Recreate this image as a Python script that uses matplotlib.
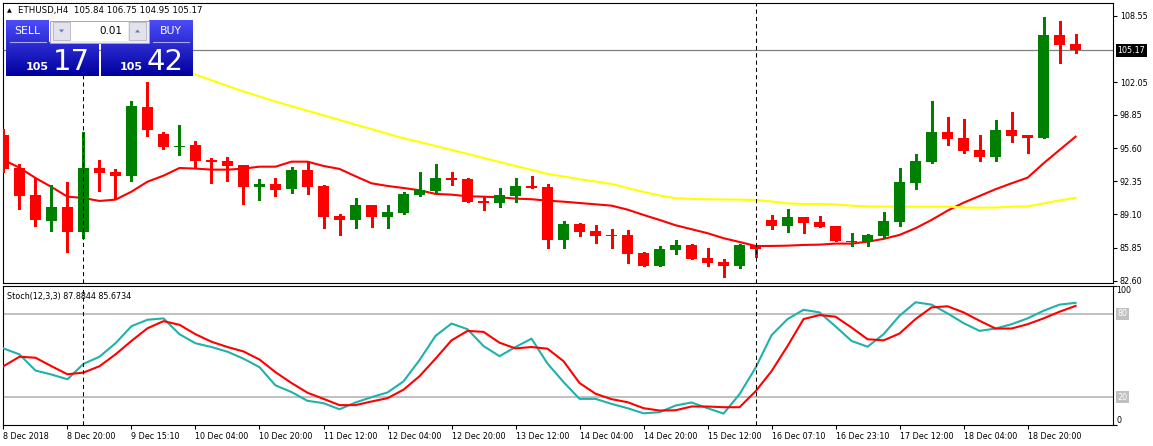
import numpy as np
import matplotlib
matplotlib.use("Agg")
import matplotlib.pyplot as plt
import matplotlib.transforms as mtransforms
from matplotlib.patches import Rectangle, Polygon

plt.rcParams['font.family'] = ['DejaVu Sans']

symbol = "ETHUSD,H4"

# OHLC of the 68 H4 bars
opens = [96.89, 93.65, 91.01, 88.49, 89.83, 87.38, 93.65, 93.26, 92.87, 99.63,
         96.99, 95.71, 95.91, 94.44, 94.34, 93.95, 91.79, 92.09, 91.60, 93.46,
         91.89, 88.95, 88.56, 90.03, 88.85, 89.24, 91.01, 91.40, 92.67, 92.58,
         90.42, 90.22, 90.91, 91.89, 91.79, 86.60, 88.17, 87.48, 87.09, 87.09,
         85.32, 84.00, 85.62, 86.11, 84.83, 84.44, 84.00, 86.11, 88.56, 87.97,
         88.85, 88.36, 87.97, 86.40, 86.40, 87.00, 88.36, 92.18, 94.24, 97.18,
         96.59, 95.42, 94.73, 97.38, 96.89, 96.59, 106.69, 105.84]
highs = [97.48, 94.05, 92.67, 91.99, 92.28, 97.18, 94.44, 93.56, 100.25, 102.08,
         97.18, 97.87, 96.30, 94.63, 94.73, 93.95, 92.58, 92.67, 93.75, 94.34,
         91.99, 89.15, 90.71, 90.03, 90.03, 91.30, 93.26, 94.05, 93.26, 92.67,
         90.81, 91.69, 92.67, 92.87, 92.09, 88.46, 88.26, 88.07, 87.68, 87.58,
         85.42, 86.01, 86.60, 86.21, 85.81, 84.74, 86.21, 86.11, 89.05, 89.64,
         88.85, 88.95, 87.97, 87.28, 87.19, 89.34, 93.65, 95.03, 100.22, 98.65,
         98.46, 96.89, 98.36, 99.14, 96.89, 108.45, 108.06, 106.75]
lows = [93.26, 89.64, 87.97, 87.48, 85.42, 86.79, 91.40, 90.62, 92.38, 96.79,
        95.52, 94.93, 93.75, 92.18, 92.38, 90.13, 90.52, 90.91, 91.20, 91.11,
        87.77, 87.09, 87.77, 87.87, 87.77, 89.15, 90.91, 91.20, 91.99, 90.32,
        89.54, 89.83, 90.32, 91.69, 85.81, 85.81, 87.00, 86.30, 85.81, 84.34,
        84.00, 84.00, 85.23, 84.74, 84.00, 82.97, 83.85, 84.93, 87.68, 87.38,
        87.28, 87.87, 86.50, 86.01, 86.01, 86.79, 87.97, 91.60, 94.14, 95.91,
        95.13, 94.34, 94.34, 96.20, 95.13, 96.59, 103.94, 104.95]
closes = [93.56, 90.91, 88.56, 89.83, 87.38, 93.65, 93.16, 92.87, 99.73, 97.38,
          95.71, 95.81, 94.34, 94.24, 93.85, 91.79, 92.09, 91.50, 93.46, 91.79,
          88.85, 88.56, 90.03, 88.85, 89.34, 91.11, 91.50, 92.67, 92.48, 90.32,
          90.22, 91.01, 91.89, 91.69, 86.60, 88.17, 87.38, 87.00, 87.00, 85.23,
          84.00, 85.72, 86.11, 84.74, 84.34, 84.00, 86.11, 85.72, 87.97, 88.85,
          88.26, 87.87, 86.50, 86.50, 87.09, 88.46, 92.28, 94.34, 97.18, 96.50,
          95.32, 94.73, 97.38, 96.79, 96.59, 106.69, 105.71, 105.17]

# red moving average, one value per bar
ma_fast = [94.44, 93.68, 92.67, 91.79, 90.84, 90.71, 90.42, 90.55, 91.33, 92.31,
           92.90, 93.65, 93.59, 93.49, 93.49, 93.59, 93.78, 93.78, 94.27, 94.27,
           93.85, 93.56, 92.84, 92.15, 91.89, 91.69, 91.47, 91.11, 91.04, 90.88,
           90.84, 90.78, 90.65, 90.59, 90.45, 90.35, 90.22, 90.09, 89.96, 89.57,
           89.05, 88.56, 88.04, 87.65, 87.26, 86.77, 86.40, 86.01, 86.01, 86.04,
           86.11, 86.14, 86.24, 86.24, 86.43, 86.70, 87.09, 87.75, 88.56, 89.47,
           90.25, 90.91, 91.57, 92.15, 92.70, 94.11, 95.42, 96.72]
# yellow moving average, visible from bar 11 on
ma_slow_start = 11
ma_slow = [103.31, 102.79, 102.25, 101.69, 101.15, 100.66, 100.16, 99.71, 99.26, 98.81,
           98.36, 97.91, 97.46, 97.01, 96.56, 96.20, 95.81, 95.42, 95.03, 94.63,
           94.24, 93.85, 93.46, 93.07, 92.82, 92.55, 92.33, 92.09, 91.69, 91.30,
           90.96, 90.69, 90.62, 90.59, 90.57, 90.55, 90.52, 90.37, 90.18, 90.13,
           90.13, 90.08, 89.96, 89.88, 89.86, 89.86, 89.86, 89.86, 89.86, 89.78,
           89.76, 89.78, 89.86, 89.88, 90.18, 90.47, 90.74]

# Stoch(12,3,3)
stoch_main = [55.1, 50.8, 39.2, 36.3, 32.9, 44.0, 49.1, 58.8, 71.1, 75.7,
              76.7, 65.3, 58.8, 56.1, 52.7, 47.7, 41.6, 28.5, 23.7, 17.4,
              15.7, 11.3, 16.2, 20.0, 23.4, 31.4, 46.7, 64.1, 73.0, 68.9,
              56.8, 49.5, 56.1, 62.1, 44.2, 30.9, 18.8, 18.8, 15.2, 12.1,
              8.4, 9.2, 14.0, 16.2, 12.1, 8.2, 22.2, 41.1, 64.6, 76.2,
              82.9, 81.0, 70.9, 60.5, 56.3, 65.3, 78.6, 88.3, 86.6, 80.3,
              73.3, 67.7, 69.4, 72.5, 76.7, 82.2, 86.6, 87.8844]
stoch_signal = [42.3, 49.1, 48.4, 42.3, 36.5, 37.7, 42.3, 50.8, 60.5, 69.6,
                74.7, 72.1, 65.3, 59.9, 56.1, 52.9, 47.1, 38.0, 30.2, 23.2,
                18.8, 14.3, 14.3, 16.9, 19.3, 25.4, 35.1, 47.7, 60.9, 67.7,
                67.0, 59.2, 55.1, 56.1, 54.9, 45.9, 30.2, 22.5, 18.6, 16.4,
                12.1, 10.4, 10.6, 13.3, 13.3, 12.8, 12.8, 24.2, 38.7, 56.8,
                76.2, 79.1, 77.9, 70.1, 61.7, 60.9, 65.8, 76.2, 84.6, 85.4,
                81.0, 75.0, 69.4, 69.4, 72.5, 76.7, 81.5, 85.6734]

time_labels = ["8 Dec 2018", "8 Dec 20:00", "9 Dec 15:10", "10 Dec 04:00", "10 Dec 20:00",
               "11 Dec 12:00", "12 Dec 04:00", "12 Dec 20:00", "13 Dec 12:00",
               "14 Dec 04:00", "14 Dec 20:00", "15 Dec 12:00", "16 Dec 07:10",
               "16 Dec 23:10", "17 Dec 12:00", "18 Dec 04:00", "18 Dec 20:00"]
label_step = 4
price_ticks = [82.60, 85.85, 89.10, 92.35, 95.60, 98.85, 102.05, 108.55]
bid = 105.17
ask = 105.42
lot = "0.01"
marked_bars = [5, 47]

W, H = 1153, 446
fig = plt.figure(figsize=(W / 100, H / 100), dpi=100)
fig.patch.set_facecolor('white')


def box(x0, y0, x1, y1):
    # pixel box (y down) -> figure fraction rect
    return [x0 / W, 1 - y1 / H, (x1 - x0) / W, (y1 - y0) / H]


ax = fig.add_axes(box(3, 3, 1113, 283))
ax2 = fig.add_axes(box(3, 286, 1113, 425))

n = len(opens)
idx = np.arange(n)
o = np.array(opens)
c = np.array(closes)
colors = np.where(c >= o, '#008000', '#FF0000')
xlim = (-0.03, 69.34)

# ---- main price panel
ax.axhline(bid, color='#808080', lw=0.9, zorder=1)
ax.plot(idx, ma_fast, color='#FF0000', lw=1.5, zorder=2)
ax.plot(idx[ma_slow_start:], ma_slow, color='#FFFF00', lw=1.5, zorder=2)
ax.vlines(idx, lows, highs, colors=colors, lw=0.75, zorder=3, antialiased=False)
ax.bar(idx, np.maximum(np.abs(c - o), 0.1), bottom=np.minimum(o, c), width=0.69,
       color=colors, lw=0, zorder=4, antialiased=False)
for b in marked_bars:
    ax.axvline(b, color='black', lw=0.75, ls=(0, (4, 3)), zorder=5)
    ax2.axvline(b, color='black', lw=0.75, ls=(0, (4, 3)), zorder=5)

ax.set_xlim(*xlim)
ax.set_ylim(82.38, 109.82)
ax.set_xticks([])
ax.yaxis.tick_right()
ax.set_yticks(price_ticks)
ax.set_yticklabels([f"{p:.2f}" for p in price_ticks])
ax.tick_params(axis='y', length=3, width=0.8, labelsize=5.8, pad=2)

blend = mtransforms.blended_transform_factory(ax.transAxes, ax.transData)
ax.text(1.004, bid, f"{bid:.2f}", transform=blend, ha='left', va='center',
        fontsize=5.8, color='white',
        bbox=dict(boxstyle='square,pad=0.22', fc='black', ec='none'))

# ---- stochastic panel
ax2.axhline(80, color='#C0C0C0', lw=1.4, zorder=1)
ax2.axhline(20, color='#C0C0C0', lw=1.4, zorder=1)
ax2.plot(idx, stoch_main, color='#20B2AA', lw=1.5, zorder=3)
ax2.plot(idx, stoch_signal, color='#FF0000', lw=1.5, zorder=3)
ax2.set_xlim(*xlim)
ax2.set_ylim(0, 100)
ax2.yaxis.tick_right()
ax2.set_yticks([0, 100])
ax2.set_yticklabels(['', ''])
ax2.tick_params(axis='y', length=3, width=0.8)
ticks = idx[::label_step][:len(time_labels)]
ax2.set_xticks(ticks)
ax2.set_xticklabels(time_labels, ha='left')
ax2.tick_params(axis='x', length=3, width=0.8, labelsize=5.8, pad=2)

blend2 = mtransforms.blended_transform_factory(ax2.transAxes, ax2.transData)
ax2.text(1.003, 100, "100", transform=blend2, ha='left', va='top', fontsize=5.8)
ax2.text(1.003, 0, "0", transform=blend2, ha='left', va='bottom', fontsize=5.8)
for lv in (80, 20):
    ax2.text(1.004, lv, str(lv), transform=blend2, ha='left', va='center',
             fontsize=5.8, color='white',
             bbox=dict(boxstyle='square,pad=0.15', fc='#C0C0C0', ec='none'))
ax2.text(0.004, 0.96, f"Stoch(12,3,3) {stoch_main[-1]:.4f} {stoch_signal[-1]:.4f}",
         transform=ax2.transAxes, ha='left', va='top', fontsize=5.8)

for a in (ax, ax2):
    for s in a.spines.values():
        s.set_linewidth(0.8)
        s.set_color('black')

# ---- overlay: header and one-click trading panel (pixel coords)
ov = fig.add_axes([0, 0, 1, 1], zorder=10)
ov.axis('off')

# header strip hides the marker line above the panel, like the terminal does
ov.add_patch(Rectangle((4, 4), 190, 16.5, fc='white', ec='none', zorder=0))
ov.text(9.5, 10.5, "▲", fontsize=4.5, ha='center', va='center')
ov.text(18, 10.5, f"{symbol}  {opens[-1]:.2f} {highs[-1]:.2f} {lows[-1]:.2f} {closes[-1]:.2f}",
        fontsize=6.2, ha='left', va='center')

top_col = np.array([0.30, 0.30, 0.98])
bot_col = np.array([0.0, 0.0, 0.62])


def grad(x0, y0, x1, y1):
    ys = np.linspace(y0, y1, 40)
    t = ((ys - 20) / (76 - 20))[:, None]
    rgb = top_col * (1 - t) + bot_col * t
    ov.imshow(rgb[:, None, :], extent=(x0, x1, y1, y0), aspect='auto',
              interpolation='bilinear', zorder=1)


grad(6, 20.5, 49, 43)
grad(6, 42.5, 99, 76)
grad(149, 20.5, 193, 43)
grad(101, 42.5, 193, 76)

# lot spin box
ov.add_patch(Rectangle((50, 20.5), 99, 22, fc='#ECECEC', ec='#A8A8A8', lw=0.7, zorder=2))
ov.add_patch(Rectangle((71, 21.5), 57, 19.5, fc='white', ec='none', zorder=3))
for bx, up in ((53, False), (129, True)):
    ov.add_patch(Rectangle((bx, 22), 17, 18, fc='#E2E2EC', ec='#B4B4C4', lw=0.6, zorder=3))
    cx = bx + 8.5
    if up:
        pts = [(cx - 2.5, 32.5), (cx + 2.5, 32.5), (cx, 29.5)]
    else:
        pts = [(cx - 2.5, 29.5), (cx + 2.5, 29.5), (cx, 32.5)]
    ov.add_patch(Polygon(pts, closed=True, fc='#6A7AA8', ec='none', zorder=4))
ov.text(122, 31.5, lot, fontsize=7.5, ha='right', va='center', zorder=5)

ov.text(27.5, 31.5, "SELL", color='white', fontsize=7.8, ha='center', va='center', zorder=5)
ov.text(171, 31.5, "BUY", color='white', fontsize=7.8, ha='center', va='center', zorder=5)
ov.plot([10, 46], [42.3, 42.3], color='#A8A8F0', lw=0.8, zorder=5)
ov.plot([153, 189], [42.3, 42.3], color='#A8A8F0', lw=0.8, zorder=5)

for price, xs, xb in ((bid, 49, 53), (ask, 143, 147)):
    s = f"{price:.2f}"
    ov.text(xs, 70, s[:3], color='white', fontsize=8, fontweight='bold',
            ha='right', va='baseline', zorder=5)
    ov.text(xb, 70, s[4:], color='white', fontsize=21, ha='left', va='baseline', zorder=5)

ov.set_xlim(0, W)
ov.set_ylim(H, 0)

fig.savefig("out.png", dpi=100, facecolor='white')
